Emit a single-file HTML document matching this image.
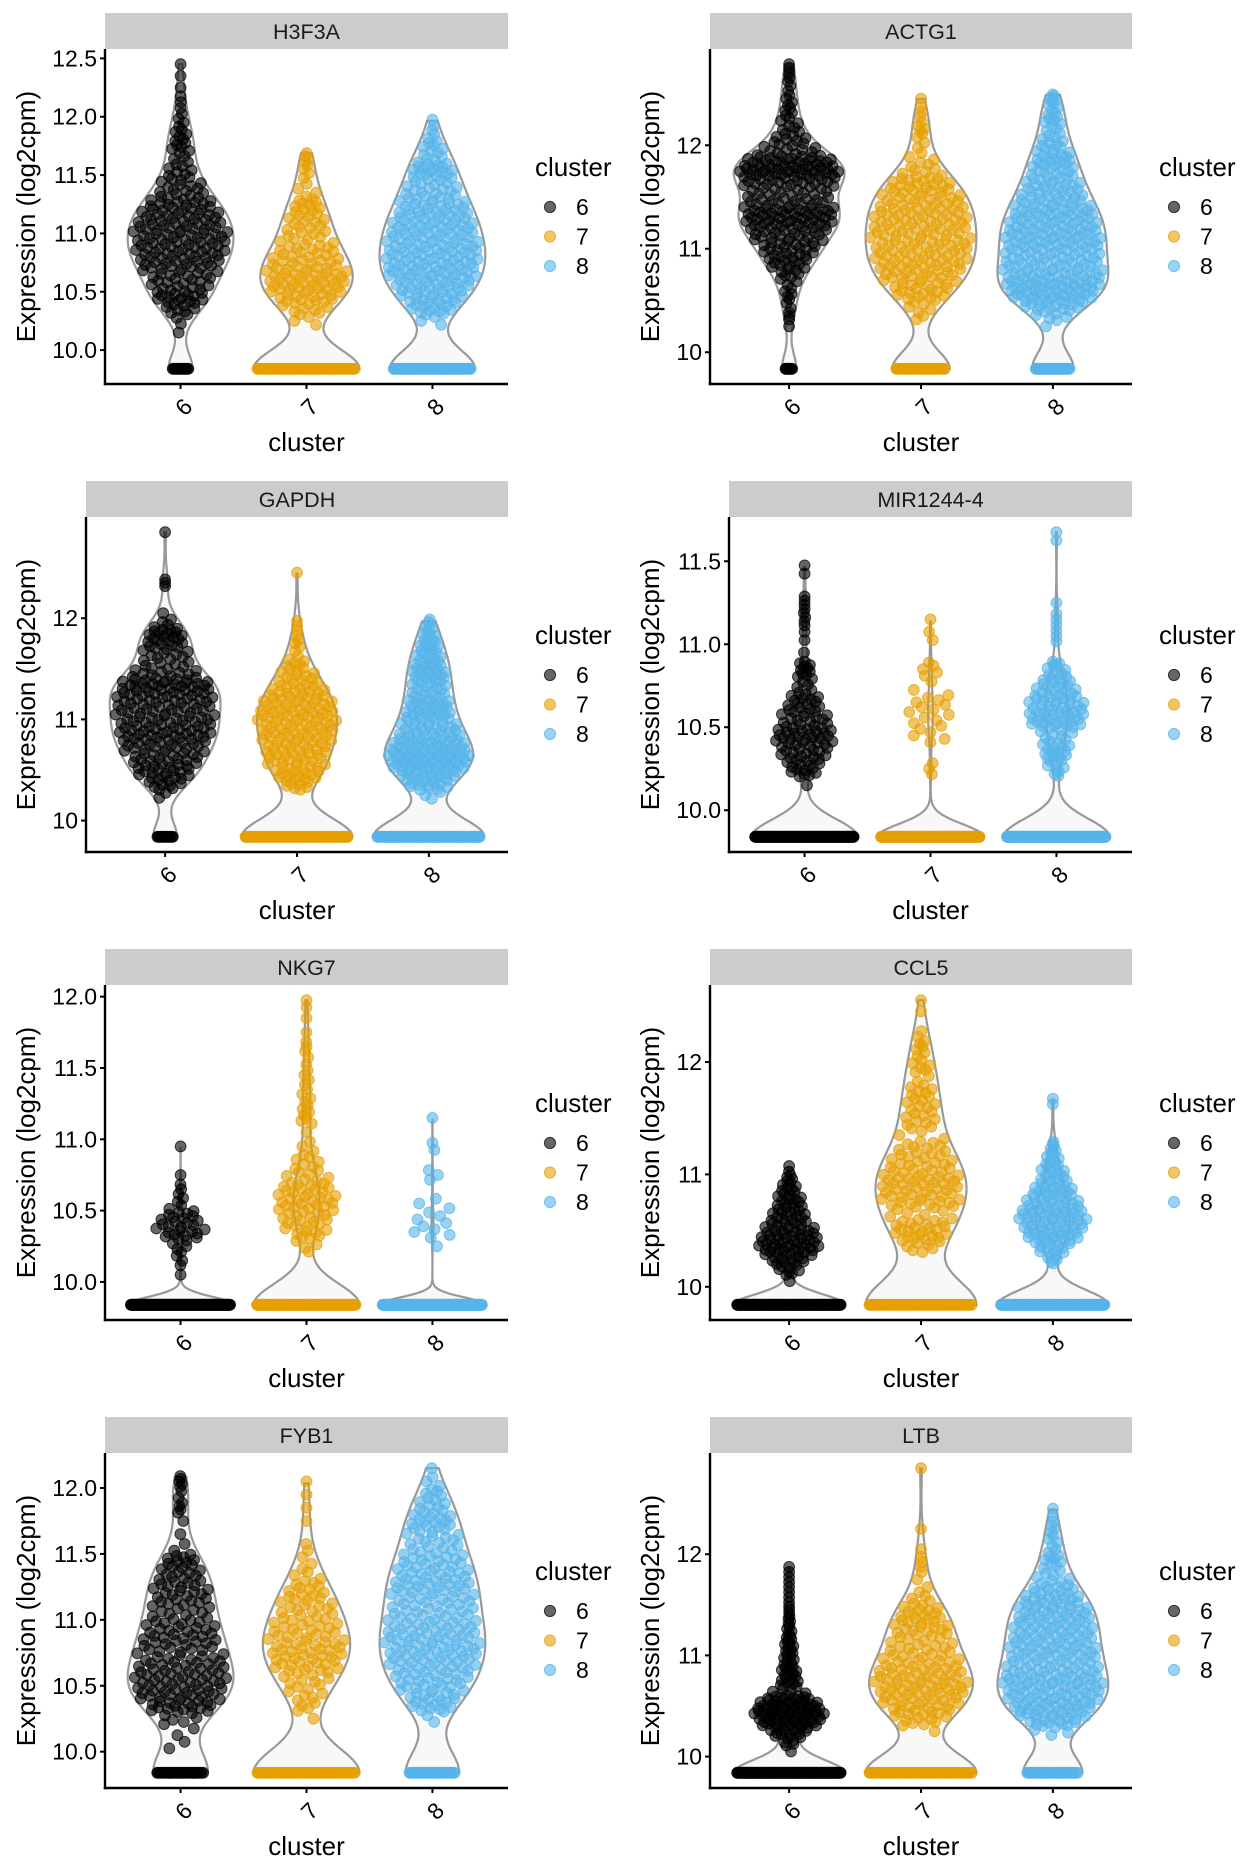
<!DOCTYPE html>
<html><head><meta charset="utf-8">
<style>
html,body{margin:0;padding:0;background:#fff;}
svg{display:block;font-family:"Liberation Sans",Arial,sans-serif;}
</style></head>
<body>
<svg id="fig" width="1248" height="1872" viewBox="0 0 1248 1872" xmlns="http://www.w3.org/2000/svg"></svg>
<script>
// ---- data ----
const genes = ["H3F3A","ACTG1","GAPDH","MIR1244-4","NKG7","CCL5","FYB1","LTB"];
const clusters = ["6","7","8"];
const zeroValue = 9.84;
const binStart = 10.0;
const binWidth = 0.1;
const ticks_H3F3A = [10,10.5,11,11.5,12,12.5];
const ticks_ACTG1 = [10,11,12];
const ticks_GAPDH = [10,11,12];
const ticks_MIR = [10,10.5,11,11.5];
const ticks_NKG7 = [10,10.5,11,11.5,12];
const ticks_CCL5 = [10,11,12];
const ticks_FYB1 = [10,10.5,11,11.5,12];
const ticks_LTB = [10,11,12];
const tickLabels_H3F3A = ["10.0","10.5","11.0","11.5","12.0","12.5"];
const tickLabels_ACTG1 = ["10","11","12"];
const tickLabels_GAPDH = ["10","11","12"];
const tickLabels_MIR = ["10.0","10.5","11.0","11.5"];
const tickLabels_NKG7 = ["10.0","10.5","11.0","11.5","12.0"];
const tickLabels_CCL5 = ["10","11","12"];
const tickLabels_FYB1 = ["10.0","10.5","11.0","11.5","12.0"];
const tickLabels_LTB = ["10","11","12"];
// zero-count cells per cluster (6,7,8)
const zeros_H3F3A = [15,70,70];
const zeros_ACTG1 = [10,35,35];
const zeros_GAPDH = [15,100,120];
const zeros_MIR = [250,250,250];
const zeros_NKG7 = [300,180,300];
const zeros_CCL5 = [250,80,200];
const zeros_FYB1 = [35,70,40];
const zeros_LTB = [200,70,45];
// histograms of non-zero expression, bins of 0.1 starting at 10.0
const hist_H3F3A = [
 [0,1,2,8,14,12,14,18,20,20,20,18,16,10,8,6,4,6,5,3,2,2,1,1,1],
 [0,0,3,8,14,18,18,14,12,8,8,8,8,3,2,3,4],
 [0,0,3,12,16,18,22,22,22,20,20,18,16,12,10,14,6,6,3,2]];
const hist_ACTG1 = [
 [0,0,1,3,2,4,3,6,10,12,14,16,22,24,16,14,20,30,24,10,8,5,4,4,3,2,3,3],
 [0,0,0,3,4,10,12,14,16,16,16,16,16,16,14,14,12,6,4,2,2,4,2,2,1],
 [0,0,1,6,14,24,26,22,20,20,22,22,20,20,16,14,12,10,12,8,6,4,6,4,6]];
const hist_GAPDH = [
 [0,0,2,8,12,14,14,16,20,18,18,18,20,22,12,8,8,10,12,4,1,0,0,3,0,0,0,0,1],
 [0,0,0,8,12,12,14,14,16,16,18,16,14,10,8,6,2,3,2,2,0,0,0,0,1],
 [0,0,3,12,18,26,28,24,16,14,14,14,10,10,14,10,8,8,6,4]];
const hist_MIR = [
 [0,1,14,18,24,16,14,6,10,1,2,4,4,0,2],
 [0,0,3,0,5,6,7,2,5,0,2,1],
 [0,0,8,14,10,26,22,16,10,0,3,3,1,0,0,0,2]];
const hist_NKG7 = [
 [1,3,5,14,12,4,3,1,0,1],
 [0,0,4,10,12,16,14,8,6,3,1,5,4,3,3,2,3,1,1,2],
 [0,0,1,5,4,3,0,3,0,2,0,1]];
const hist_CCL5 = [
 [1,8,14,22,20,14,12,10,8,6,2],
 [0,0,0,6,12,12,6,14,14,16,12,10,8,3,6,6,6,6,2,5,3,4,2,0,1,1],
 [0,0,6,10,18,20,22,16,14,10,8,6,5,0,0,0,2]];
const hist_FYB1 = [
 [2,2,6,18,20,20,18,14,16,14,10,12,12,10,10,2,1,1,4,2,5],
 [0,0,1,5,6,8,14,16,14,12,10,10,8,4,2,2,0,1,1,1,1],
 [0,0,2,12,14,16,18,20,20,18,16,16,18,16,14,10,10,12,8,6,3,1]];
const hist_LTB = [
 [1,6,14,26,32,22,6,8,8,6,6,6,4,4,3,2,2,2,2],
 [0,0,1,8,12,14,16,16,14,12,10,8,10,10,8,4,2,1,2,2,1,0,1,0,0,0,0,0,1],
 [0,0,4,14,18,20,20,22,18,16,18,16,16,16,16,14,10,6,4,6,3,3,3,2,1]];

const allTicks = [ticks_H3F3A,ticks_ACTG1,ticks_GAPDH,ticks_MIR,ticks_NKG7,ticks_CCL5,ticks_FYB1,ticks_LTB];
const allTickLabels = [tickLabels_H3F3A,tickLabels_ACTG1,tickLabels_GAPDH,tickLabels_MIR,tickLabels_NKG7,tickLabels_CCL5,tickLabels_FYB1,tickLabels_LTB];
const allZeros = [zeros_H3F3A,zeros_ACTG1,zeros_GAPDH,zeros_MIR,zeros_NKG7,zeros_CCL5,zeros_FYB1,zeros_LTB];
const allHists = [hist_H3F3A,hist_ACTG1,hist_GAPDH,hist_MIR,hist_NKG7,hist_CCL5,hist_FYB1,hist_LTB];
const colors = ["#000000","#E69F00","#56B4E9"];

// ---- drawing ----
const NS = "http://www.w3.org/2000/svg";
const svg = document.getElementById("fig");
function mk(tag, attrs, parent){
  const e = document.createElementNS(NS, tag);
  for (const k in attrs) e.setAttribute(k, attrs[k]);
  (parent||svg).appendChild(e);
  return e;
}
function vdc(n){ let v=0, d=1; while(n>0){ d*=2; v+=(n%2)/d; n=Math.floor(n/2);} return v; }
function valuesFor(p, c){
  const vals = [];
  const z = allZeros[p][c];
  for (let i=0;i<z;i++) vals.push(zeroValue);
  const h = allHists[p][c];
  for (let i=0;i<h.length;i++){
    for (let k=0;k<h[i];k++) vals.push(binStart + binWidth*(i + (k+0.5)/h[i]));
  }
  return vals;
}
function nrd0(v){
  const n=v.length, m=v.reduce((a,b)=>a+b,0)/n;
  const sd=Math.sqrt(v.reduce((a,b)=>a+(b-m)*(b-m),0)/(n-1));
  const s=[...v].sort((a,b)=>a-b);
  const q=f=>{const h=(n-1)*f, l=Math.floor(h); return s[l]+(h-l)*((s[Math.min(l+1,n-1)])-s[l]);};
  const iqr=(q(0.75)-q(0.25))/1.34;
  let lo=Math.min(sd, iqr>0?iqr:sd);
  if(!(lo>0)) lo=sd||1;
  return 0.9*lo*Math.pow(n,-0.2);
}

const PT=49, PB=384, PR=508;
for (let p=0;p<8;p++){
  const ox=(p%2)*624, oy=Math.floor(p/2)*468;
  const g=mk("g",{transform:`translate(${ox},${oy})`});
  
  
  const decimal = allTickLabels[p][0].indexOf(".")>=0;
  const AX = decimal ? 105 : 86;
  const vals = [0,1,2].map(c=>valuesFor(p,c));
  let hi = -Infinity; vals.forEach(v=>v.forEach(x=>{ if(x>hi) hi=x; }));
  const lo = zeroValue;
  const span = hi-lo;
  const yS = v => PB - (v - lo + 0.05*span)/(1.1*span)*(PB-PT);
  const step = (PR-AX)/3.2;
  const xS = i => AX + (i+0.6)*step;
  const halfMax = 0.42*step;

  const strip=mk("rect",{x:AX,y:13,width:PR-AX,height:36,fill:"#cccccc"},g);
  
  
  const st=mk("text",{x:(AX+PR)/2,y:39,"text-anchor":"middle","font-size":"21.5",fill:"#1a1a1a"},g);
  st.textContent=genes[p];
  
  

  for (let c=0;c<3;c++){
    const v=vals[c];
    const bw=nrd0(v);
    const N=140, grid=[], dens=[];
    for (let i=0;i<=N;i++){
      const y=lo+(hi-lo)*i/N; grid.push(y);
      let s=0; for (const x of v){ const u=(y-x)/bw; s+=Math.exp(-0.5*u*u); }
      dens.push(s);
    }
    const gmax=Math.max(...v);
    const md=Math.max(...dens);
    const hw = y => { let i=Math.round((y-lo)/(hi-lo)*N); i=Math.max(0,Math.min(N,i)); return dens[i]/md*halfMax; };
    const nz=v.filter(x=>x>lo);
    const bw2 = nz.length>2 ? nrd0(nz) : 0.1;
    const d2=[]; let md2=0;
    for (let i=0;i<=N;i++){
      let s=0; for (const x of nz){ const u=(grid[i]-x)/bw2; s+=Math.exp(-0.5*u*u); }
      d2.push(s); if(s>md2) md2=s;
    }
    const nzFrac = Math.min(1, 0.5 + 0.5*nz.length/v.length);
    const hw2 = y => { let i=Math.round((y-lo)/(hi-lo)*N); i=Math.max(0,Math.min(N,i)); return md2>0 ? d2[i]/md2*halfMax*nzFrac : 0; };
    const cx=xS(c);
    let right=[], left=[];
    for (let i=0;i<=N;i++){
      if (grid[i]>gmax+1e-9) break;
      const w=dens[i]/md*halfMax;
      right.push(`${(cx+w).toFixed(1)},${yS(grid[i]).toFixed(1)}`);
      left.unshift(`${(cx-w).toFixed(1)},${yS(grid[i]).toFixed(1)}`);
    }
    const vp=mk("polygon",{points:right.concat(left).join(" "),fill:"#f8f8f8",stroke:"#999999","stroke-width":"2.2"},g);
    
    
    const pg=mk("g",{fill:colors[c],stroke:colors[c],"fill-opacity":"0.6","stroke-opacity":"0.7","stroke-width":"1"},g);
    
    
    let k=0;
    for (const x of v){
      const w = x===lo ? Math.max(0, hw(x)-3) : Math.max(0, Math.max(hw(x), hw2(x)) - 5);
      const u=2*vdc(k+1)-1; k++;
      const dot=mk("circle",{cx:(cx+u*w).toFixed(1),cy:yS(x).toFixed(1),r:"5.4"},pg);
      
      
    }
  }

  const ya=mk("line",{x1:AX,y1:PT,x2:AX,y2:PB+1.2,stroke:"#000","stroke-width":"2.4"},g);
  
  
  const xa=mk("line",{x1:AX-1.2,y1:PB,x2:PR,y2:PB,stroke:"#000","stroke-width":"2.4"},g);
  
  
  allTicks[p].forEach((t,i)=>{
    const y=yS(t);
    const tl=mk("line",{x1:AX-5,y1:y,x2:AX,y2:y,stroke:"#000","stroke-width":"2"},g);
    
    
    const tt=mk("text",{x:AX-8,y:y+8,"text-anchor":"end","font-size":"23",fill:"#000"},g);
    tt.textContent=allTickLabels[p][i];
    
    
  });
  clusters.forEach((cl,i)=>{
    const x=xS(i);
    const tl=mk("line",{x1:x,y1:PB,x2:x,y2:PB+5,stroke:"#000","stroke-width":"2"},g);
    
    
    const tt=mk("text",{x:0,y:0,"text-anchor":"middle","font-size":"23",fill:"#000",transform:`translate(${x+3},${407}) rotate(-45) translate(0,8)`},g);
    tt.textContent=cl;
    
    
  });
  const xt=mk("text",{x:(AX+PR)/2,y:451,"text-anchor":"middle","font-size":"26",fill:"#000"},g);
  xt.textContent="cluster";
  
  
  const yt=mk("text",{x:0,y:0,"text-anchor":"middle","font-size":"26",fill:"#000",transform:`translate(35,${(PT+PB)/2}) rotate(-90)`},g);
  yt.textContent="Expression (log2cpm)";
  
  

  const lg=mk("g",{},g);
  
  
  const ltt=mk("text",{x:535,y:176,"font-size":"26",fill:"#000"},lg);
  ltt.textContent="cluster";
  
  
  clusters.forEach((cl,i)=>{
    const y=207+i*29.5;
    const d=mk("circle",{cx:550,cy:y,r:"5.6",fill:colors[i],stroke:colors[i],"fill-opacity":"0.6","stroke-opacity":"0.7"},lg);
    
    
    const t=mk("text",{x:576,y:y+8,"font-size":"23",fill:"#000"},lg);
    t.textContent=cl;
    
    
  });
}
</script>
</body></html>
